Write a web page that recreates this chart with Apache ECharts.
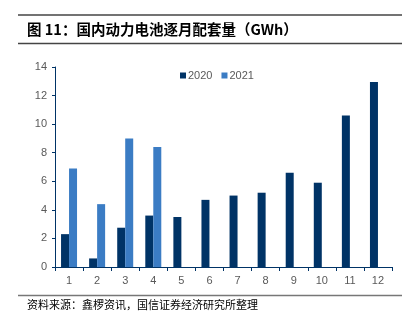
<!DOCTYPE html>
<html><head><meta charset="utf-8">
<script src="https://cdn.jsdelivr.net/npm/echarts@6/dist/echarts.min.js"></script>
<style>html,body{margin:0;padding:0;background:#fff}#c{width:413px;height:327px}</style>
</head><body><div id="c"></div>
<script>
const categories = ['1','2','3','4','5','6','7','8','9','10','11','12'];
const values2020 = [2.3, 0.6, 2.75, 3.6, 3.5, 4.7, 5.0, 5.2, 6.6, 5.9, 10.6, 12.95];
const values2021 = [6.9, 4.4, 9.0, 8.4, '-', '-', '-', '-', '-', '-', '-', '-'];
const seriesNames = ['2020', '2021'];
const titleText = '图 11：国内动力电池逐月配套量（GWh）';
const sourceText = '资料来源：鑫椤资讯，国信证券经济研究所整理';

const chart = echarts.init(document.getElementById('c'), null, {renderer: 'canvas'});
const navy = '#003366';
const blue = '#3B7CC4';
const gray = '#595959';
chart.setOption({
  animation: false,
  textStyle: {fontFamily: 'Liberation Sans, Arial, sans-serif'},
  grid: {left: 55, right: 21, top: 67, bottom: 60},
  legend: {
    data: seriesNames, left: 175, top: 65, itemWidth: 6, itemHeight: 6, itemGap: 9,
    icon: 'rect',
    textStyle: {color: gray, fontSize: 11, padding: [0, 0, 0, -3]}
  },
  xAxis: {
    type: 'category', data: categories,
    axisLine: {lineStyle: {color: navy, width: 1}},
    axisTick: {show: true, length: 4, lineStyle: {color: navy}},
    axisLabel: {color: gray, fontSize: 11, margin: 8}
  },
  yAxis: {
    type: 'value', min: 0, max: 14, interval: 2,
    axisLine: {show: true, lineStyle: {color: navy, width: 1}},
    axisTick: {show: true, length: 3, lineStyle: {color: navy}},
    splitLine: {show: false},
    axisLabel: {color: gray, fontSize: 11, margin: 8}
  },
  series: [
    {name: seriesNames[0], type: 'bar', data: values2020, barWidth: 8, barGap: '0%',
     itemStyle: {color: navy}},
    {name: seriesNames[1], type: 'bar', data: values2021, barWidth: 8,
     itemStyle: {color: blue}}
  ],
  graphic: [
    {type: 'line', shape: {x1: 18, y1: 15, x2: 402, y2: 15}, style: {stroke: '#444', lineWidth: 1.5}},
    {type: 'line', shape: {x1: 18, y1: 43.5, x2: 402, y2: 43.5}, style: {stroke: '#444', lineWidth: 1.5}},
    {type: 'text', left: 27, top: 22, style: {text: titleText, fill: '#000', font: 'bold 14.5px "Noto Sans CJK SC"'}},
    {type: 'line', shape: {x1: 18, y1: 295.5, x2: 402, y2: 295.5}, style: {stroke: '#777', lineWidth: 1.5}},
    {type: 'text', left: 27, top: 299, style: {text: sourceText, fill: '#000', font: '11px "Noto Sans CJK SC"'}}
  ]
});
</script></body></html>
